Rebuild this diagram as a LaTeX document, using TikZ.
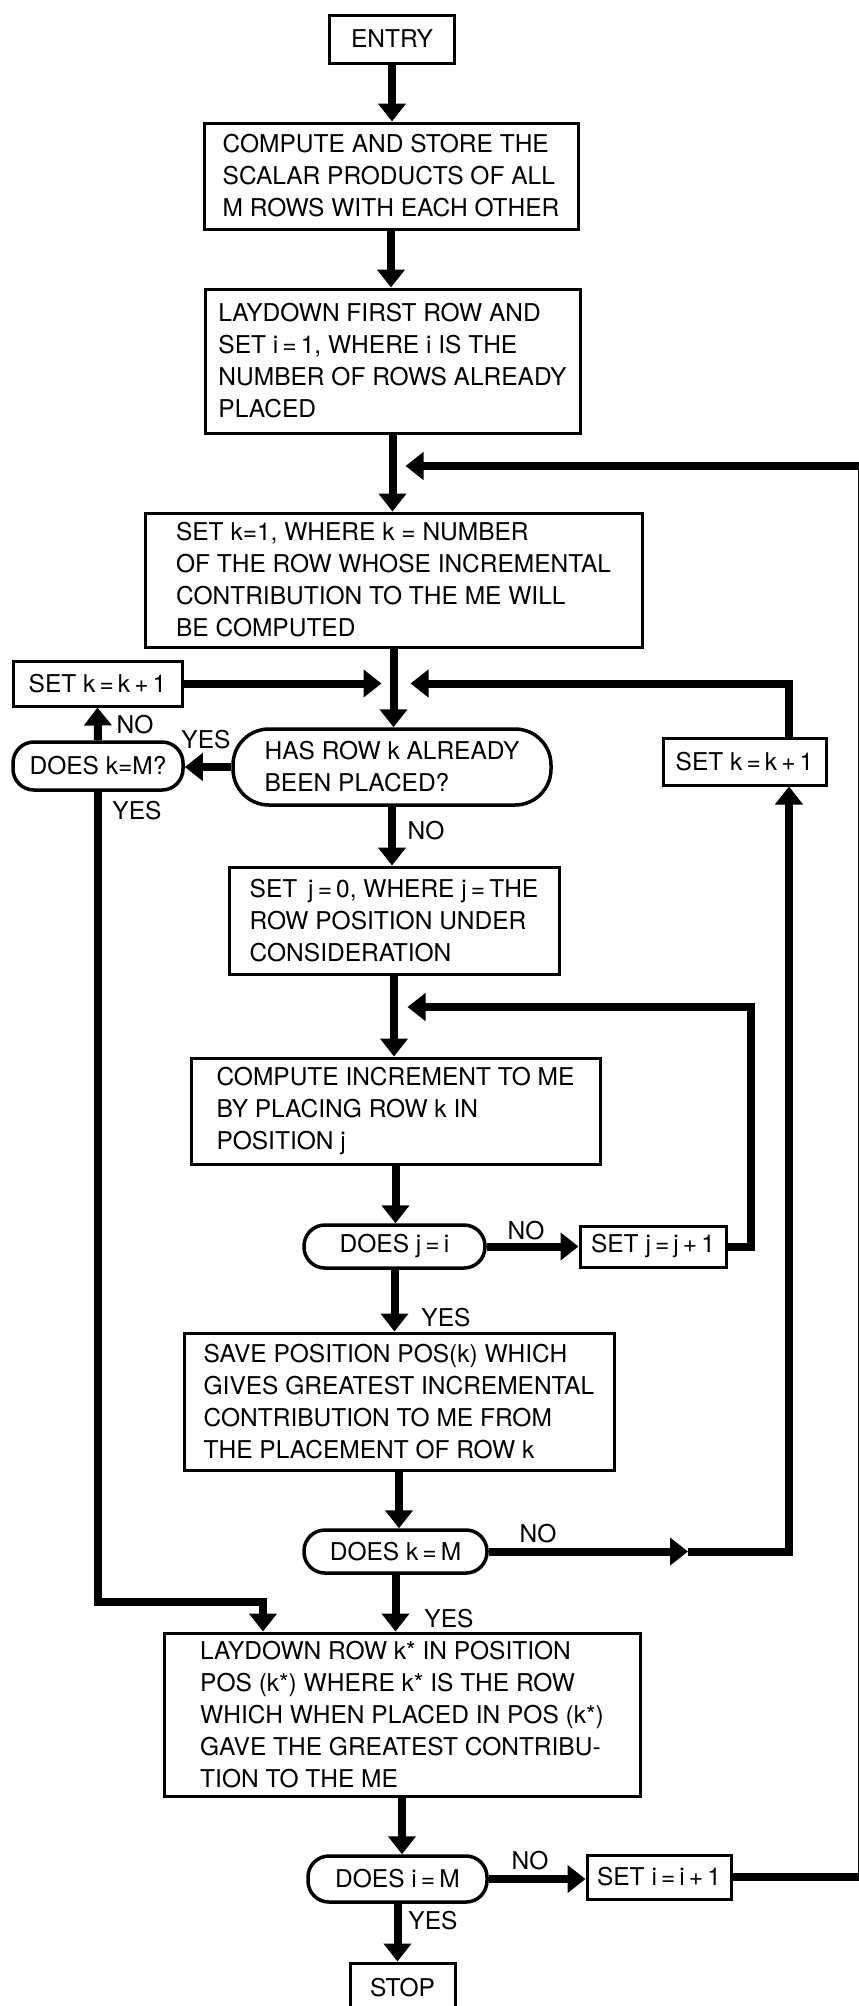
\documentclass[tikz,border=0pt]{standalone}
\usepackage{fontspec}
\setmainfont{TeX Gyre Heros}
\usetikzlibrary{arrows.meta}
\usetikzlibrary{calc}

\begin{document}
\begin{tikzpicture}[
x=1pt, y=-1pt,
every node/.style={font=\fontsize{24.5}{32}\selectfont}
]

\tikzstyle{bx} = [draw, shape=rectangle, line width=3pt, align=left, inner sep=0pt]
\tikzstyle{sb} = [bx, align=center]
\tikzstyle{rd} = [draw, shape=rectangle, line width=3.5pt, rounded corners=21pt, align=center, inner sep=0pt]
\tikzstyle{lb} = [inner sep=0pt]
\tikzstyle{ln} = [line width=8pt]
\tikzstyle{ar} = [ln, -{Triangle[width=27pt,length=18pt]}]

\useasboundingbox (0,0) rectangle (859,2006);

% main column
\node[sb, minimum width=125pt, minimum height=48pt] (entry) at (392,39) {ENTRY};
\node[bx, minimum width=374pt, minimum height=106pt] (comp) at (391,176)
    {COMPUTE AND STORE THE\\SCALAR PRODUCTS OF ALL\\M ROWS WITH EACH OTHER};
\node[bx, minimum width=375pt, minimum height=144pt] (lay1) at (392.5,361)
    {LAYDOWN FIRST ROW AND\\SET i\,=\,1, WHERE i IS THE\\NUMBER OF ROWS ALREADY\\PLACED};
\node[bx, minimum width=497pt, minimum height=134pt] (setk1) at (393.5,580)
    {SET k=1, WHERE k = NUMBER\\OF THE ROW WHOSE INCREMENTAL\\CONTRIBUTION TO THE ME WILL\\BE COMPUTED};
\node[rd, rounded corners=36pt, minimum width=318pt, minimum height=76pt, align=left] (hasrow) at (392,767)
    {HAS ROW k ALREADY\\BEEN PLACED?};
\node[bx, minimum width=330pt, minimum height=107pt] (setj0) at (394,920.5)
    {SET \,j\,=\,0, WHERE j\,=\,THE\\ROW POSITION UNDER\\CONSIDERATION};
\node[bx, minimum width=409pt, minimum height=106pt] (compinc) at (395.5,1111)
    {COMPUTE INCREMENT TO ME\\BY PLACING ROW k IN\\POSITION j};
\node[rd, minimum width=181pt, minimum height=43pt] (doesji) at (394.5,1246.5) {DOES j\,=\,i};
\node[bx, minimum width=430pt, minimum height=137pt] (save) at (399,1401.5)
    {SAVE POSITION POS(k) WHICH\\GIVES GREATEST INCREMENTAL\\CONTRIBUTION TO ME FROM\\THE PLACEMENT OF ROW k};
\node[rd, minimum width=183pt, minimum height=43pt] (doeskM) at (395.5,1551.5) {DOES k\,=\,M};
\node[bx, minimum width=476pt, minimum height=163pt] (lay2) at (402,1714.5)
    {LAYDOWN ROW k* IN POSITION\\POS (k*) WHERE k* IS THE ROW\\WHICH WHEN PLACED IN POS (k*)\\GAVE THE GREATEST CONTRIBU-\\TION TO THE ME};
\node[rd, minimum width=179pt, minimum height=46pt] (doesiM) at (397.5,1879) {DOES i\,=\,M};
\node[sb, minimum width=105pt, minimum height=50pt] (stop) at (402.5,1988) {STOP};

% side boxes
\node[sb, minimum width=169pt, minimum height=45pt] (setkL) at (97.5,683.5) {SET k\,=\,k\,+\,1};
\node[rd, minimum width=170pt, minimum height=48pt] (doesk1) at (98,766) {DOES k=M?};
\node[sb, minimum width=163pt, minimum height=47pt] (setkR) at (744.5,761.5) {SET k\,=\,k\,+\,1};
\node[sb, minimum width=146pt, minimum height=41pt] (setj1) at (653,1246.5) {SET j\,=\,j\,+\,1};
\node[sb, minimum width=144pt, minimum height=44pt] (seti1) at (659,1877) {SET i\,=\,i\,+\,1};

% turning points
\coordinate (rx) at (789,0);
\coordinate (mk) at (setk1.south |- setkL.east);
\coordinate (nk) at (688,1551.5);
\coordinate (lc) at (263,1602);
\coordinate (jc) at (751,1007);
\coordinate (mj) at (compinc.north |- jc);
\coordinate (ic) at (862,466);
\coordinate (mi) at (lay1.south |- ic);

% trunk
\draw[ar] (entry.south) -- (entry.south |- comp.north);
\draw[ar] (comp.south) -- (comp.south |- lay1.north);
\draw[ar] (lay1.south) -- (lay1.south |- setk1.north);
\draw[ar] (setk1.south) -- (setk1.south |- hasrow.north);
\draw[ar] (hasrow.south) -- (hasrow.south |- setj0.north);
\draw[ar] (setj0.south) -- (setj0.south |- compinc.north);
\draw[ar] (compinc.south) -- (compinc.south |- doesji.north);
\draw[ar] (doesji.south) -- (doesji.south |- save.north);
\draw[ar] (save.south) -- (save.south |- doeskM.north);
\draw[ar] (doeskM.south) -- (doeskM.south |- lay2.north);
\draw[ar] (lay2.south) -- (lay2.south |- doesiM.north);
\draw[ar] (doesiM.south) -- (doesiM.south |- stop.north);

% loops
\draw[ar] (hasrow.west) -- (hasrow.west -| doesk1.east);
\draw[ar] (doesk1.north) -- (setkL.south);
\draw[ar] (setkL.east) -- ([xshift=-12pt]mk);
\draw[ar] (setkR.north -| rx) |- ([xshift=17pt]mk);
\draw[ar] (doeskM.east) -- (nk);
\draw[ar] (nk) -| (setkR.south -| rx);
\draw[ar] (doesk1.south) |- (lc) -- (lc |- lay2.north);
\draw[ar] (doesji.east) -- (doesji.east -| setj1.west);
\draw[ar] (setj1.east) -| (jc) -- ([xshift=12pt]mj);
\draw[ar] (doesiM.east) -- (doesiM.east -| seti1.west);
\draw[ar] (seti1.east) -| (ic) -- ([xshift=13pt]mi);

% yes/no labels
\node[lb] (l1) at (426,831) {NO};
\node[lb] (l2) at (206,740) {YES};
\node[lb] (l3) at (135,725) {NO};
\node[lb] (l4) at (137,811) {YES};
\node[lb] (l5) at (526,1231) {NO};
\node[lb] (l6) at (446,1318) {YES};
\node[lb] (l7) at (538,1534) {NO};
\node[lb] (l8) at (449,1619) {YES};
\node[lb] (l9) at (530,1861) {NO};
\node[lb] (l10) at (433,1921) {YES};
\end{tikzpicture}
\end{document}
